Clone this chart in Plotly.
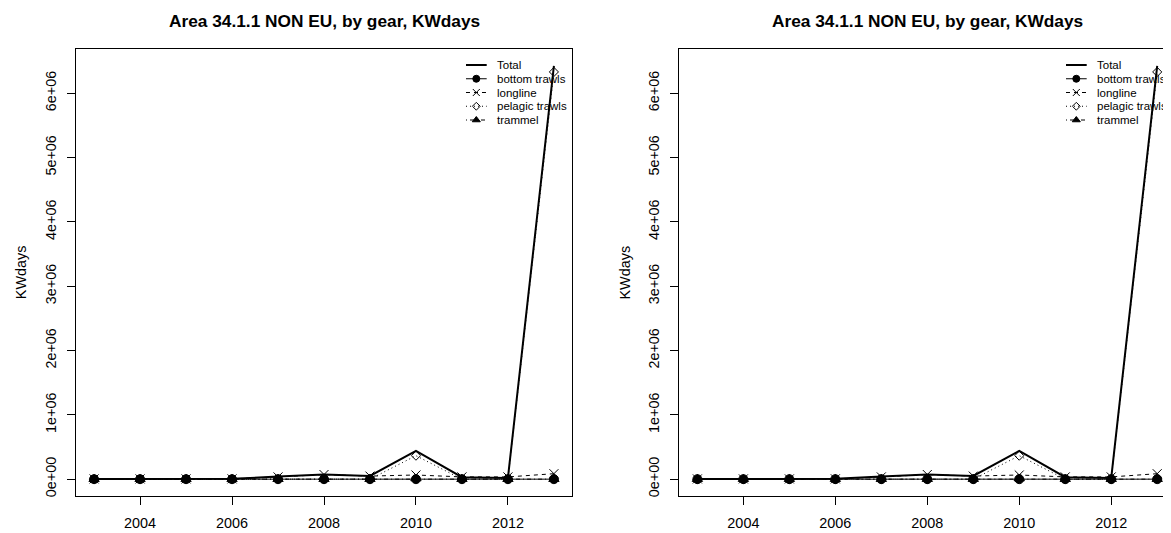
import plotly.graph_objects as go

# ---------------- data ----------------
years = [2003, 2004, 2005, 2006, 2007, 2008, 2009, 2010, 2011, 2012, 2013]
total = [0.004e6, 0.004e6, 0.004e6, 0.005e6, 0.040e6, 0.072e6, 0.050e6, 0.440e6, 0.030e6, 0.020e6, 6.425e6]
bottom_trawls = [0, 0, 0, 0, 0, 0, 0, 0, 0, 0, 0]
longline = [0.004e6, 0.004e6, 0.004e6, 0.005e6, 0.035e6, 0.072e6, 0.048e6, 0.065e6, 0.035e6, 0.035e6, 0.085e6]
pelagic_trawls = [0, 0, 0, 0, 0, 0, 0, 0.365e6, 0, 0, 6.330e6]
trammel = [0, 0, 0, 0, 0, 0, 0, 0.010e6, 0, 0, 0]

series_names = ["Total", "bottom trawls", "longline", "pelagic trawls", "trammel"]
series_values = [total, bottom_trawls, longline, pelagic_trawls, trammel]

title_text = "Area 34.1.1 NON EU, by gear, KWdays"
y_label = "KWdays"
x_tickvals = [2004, 2006, 2008, 2010, 2012]
y_tickvals = [0, 1e6, 2e6, 3e6, 4e6, 5e6, 6e6]
y_ticktext = ["0e+00", "1e+06", "2e+06", "3e+06", "4e+06", "5e+06", "6e+06"]

# ---------------- styles ----------------
FONT = "Liberation Sans, Arial, Helvetica, sans-serif"
OFF = 8  # the page body has an 8px margin: the figure starts at (8, 8)
WIN_W, WIN_H = 1171, 533
W, H = WIN_W - OFF, WIN_H - OFF
line_dash = ["solid", "solid", "4px,4px", "1px,3px", "1px,3px,4px,3px"]
line_width = [2, 1, 1, 1, 1]
marker_symbol = [None, "circle", "x-thin-open", "diamond-open", "triangle-up"]
marker_size = [0, 9, 9, 7, 9]
legend_marker_size = [0, 7, 7, 6, 7]

# panel geometry in window pixels
box_top, box_bottom = 49.3, 495.7
left_box = (75.7, 572.3)
right_left = 679.0
box_w = left_box[1] - left_box[0]


def fx(px):
    return (px - OFF) / W


def fy(py):
    return 1 - (py - OFF) / H


# R style axis ranges (4% extension)
x_lo, x_hi = min(years), max(years)
x_pad = 0.04 * (x_hi - x_lo)
x_range = [x_lo - x_pad, x_hi + x_pad]
all_vals = [v for s in series_values for v in s]
y_lo, y_hi = min(all_vals), max(all_vals)
y_pad = 0.04 * (y_hi - y_lo)
y_range = [y_lo - y_pad, y_hi + y_pad]
px_per_year = box_w / (x_range[1] - x_range[0])
x_range_right = [x_range[0], x_range[0] + (WIN_W - right_left) / px_per_year]

fig = go.Figure()

panels = [("x", "y", "x3", "y3", 0.0), ("x2", "y2", "x4", "y4", -3.3)]
for (xa, ya, lxa, lya, lshift) in panels:
    for i, name in enumerate(series_names):
        mode = "lines" if marker_symbol[i] is None else "lines+markers"
        marker = dict(color="black", size=marker_size[i], line=dict(color="black", width=1))
        if marker_symbol[i] is not None:
            marker["symbol"] = marker_symbol[i]
        fig.add_trace(go.Scatter(
            x=years, y=series_values[i], mode=mode, name=name, showlegend=False,
            line=dict(color="black", width=line_width[i], dash=line_dash[i]),
            marker=marker, xaxis=xa, yaxis=ya, cliponaxis=True,
        ))
    # manual R-style legend (pixel coordinates relative to the box top-left)
    for i, name in enumerate(series_names):
        ry = 15.7 + i * 13.75
        fig.add_trace(go.Scatter(
            x=[390.3 + lshift, 411.0 + lshift], y=[ry, ry], mode="lines", showlegend=False,
            hoverinfo="skip",
            line=dict(color="black", width=line_width[i], dash=line_dash[i]),
            xaxis=lxa, yaxis=lya,
        ))
        if marker_symbol[i] is not None:
            fig.add_trace(go.Scatter(
                x=[400.6 + lshift], y=[ry], mode="markers", showlegend=False, hoverinfo="skip",
                marker=dict(color="black", size=legend_marker_size[i], symbol=marker_symbol[i],
                            line=dict(color="black", width=1)),
                xaxis=lxa, yaxis=lya,
            ))
        fig.add_annotation(
            x=419 + lshift, y=ry, xref=lxa, yref=lya, text=name, showarrow=False,
            xanchor="left", yanchor="middle", font=dict(family=FONT, size=11.5, color="black"),
        )

ydom = [fy(box_bottom), fy(box_top)]
xdom1 = [fx(left_box[0]), fx(left_box[1])]
xdom2 = [fx(right_left), 1.0]

common_x = dict(showline=True, linecolor="black", linewidth=1, mirror=True, ticks="outside",
                ticklen=8, tickwidth=1, tickcolor="black", showgrid=False, zeroline=False,
                tickvals=x_tickvals, tickfont=dict(family=FONT, size=14.4, color="black"),
                automargin=False, ticklabelstandoff=6)
common_y = dict(showline=True, linecolor="black", linewidth=1, ticks="outside",
                ticklen=8, tickwidth=1, tickcolor="black", showgrid=False, zeroline=False,
                tickvals=y_tickvals, ticktext=y_ticktext, tickangle=-90,
                tickfont=dict(family=FONT, size=14.4, color="black"), automargin=False,
                range=y_range, domain=ydom, ticklabelstandoff=5)

fig.update_layout(
    width=W, height=H, margin=dict(l=0, r=0, t=0, b=0),
    paper_bgcolor="white", plot_bgcolor="rgba(0,0,0,0)", showlegend=False,
    xaxis=dict(domain=xdom1, range=x_range, anchor="y", **common_x),
    yaxis=dict(anchor="x", mirror=True, **common_y),
    xaxis2=dict(domain=xdom2, range=x_range_right, anchor="y2", **common_x),
    yaxis2=dict(anchor="x2", mirror=False, **common_y),
    xaxis3=dict(domain=xdom1, range=[0, box_w], visible=False, anchor="y3", fixedrange=True),
    yaxis3=dict(domain=ydom, range=[box_bottom - box_top, 0], visible=False, anchor="x3", fixedrange=True),
    xaxis4=dict(domain=xdom2, range=[0, WIN_W - right_left], visible=False, anchor="y4", fixedrange=True),
    yaxis4=dict(domain=ydom, range=[box_bottom - box_top, 0], visible=False, anchor="x4", fixedrange=True),
)

# titles and y-axis labels
for cx, lab_x in [((left_box[0] + left_box[1]) / 2, 20.7), ((right_left + right_left + box_w) / 2, 624.0)]:
    fig.add_annotation(x=fx(cx), y=fy(20.5), xref="paper", yref="paper", text="<b>" + title_text + "</b>",
                       showarrow=False, xanchor="center", yanchor="middle",
                       font=dict(family=FONT, size=17.3, color="black"))
    fig.add_annotation(x=fx(lab_x), y=fy((box_top + box_bottom) / 2), xref="paper", yref="paper",
                       text=y_label, showarrow=False, textangle=-90, xanchor="center", yanchor="middle",
                       font=dict(family=FONT, size=14.4, color="black"))

fig.write_html("out.html")
